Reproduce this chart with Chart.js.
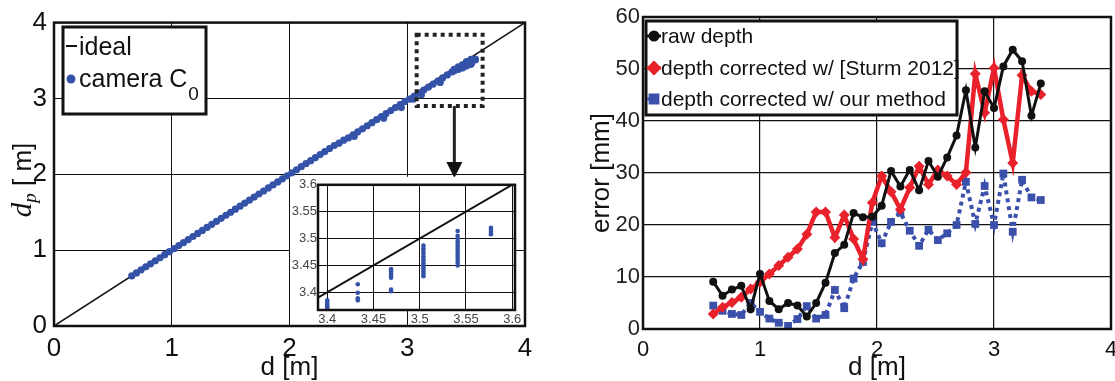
<!DOCTYPE html>
<html>
<head>
<meta charset="utf-8">
<script src="https://cdn.jsdelivr.net/npm/chart.js@4.4.1/dist/chart.umd.min.js"></script>
<style>
html, body { margin: 0; padding: 0; background: #fff; overflow: hidden; width: 1115px; height: 381px; }
canvas { position: absolute; }
#left  { left: 0;     top: 0; }
#inset { left: 280px; top: 176px; }
#right { left: 560px; top: 0; }
</style>
</head>
<body>
<canvas id="left" width="560" height="381"></canvas>
<canvas id="inset" width="245" height="154"></canvas>
<canvas id="right" width="575" height="381"></canvas>
<script>
// ---- left panel: measured depth d vs d_p, camera C0 ----
const bandD  = [0.66,0.70,0.74,0.78,0.82,0.86,0.90,0.94,0.98,1.02,1.06,1.10,1.14,1.18,1.22,1.26,1.30,1.34,1.38,1.42,1.46,1.50,1.54,1.58,1.62,1.66,1.70,1.74,1.78,1.82,1.86,1.90,1.94,1.98,2.02,2.06,2.10,2.14,2.18,2.22,2.26,2.30,2.34,2.38,2.42,2.46,2.50,2.54,2.58,2.62,2.66,2.70,2.74,2.78,2.82,2.86,2.90,2.94,2.98,3.02,3.06,3.10,3.14,3.18,3.22,3.26,3.30,3.34,3.38,
                2.55,2.80,2.95,3.05,3.12,3.28];
const bandDp = [0.66,0.70,0.74,0.78,0.82,0.86,0.90,0.94,0.98,1.02,1.06,1.10,1.14,1.18,1.22,1.26,1.30,1.34,1.38,1.42,1.46,1.50,1.54,1.58,1.62,1.66,1.70,1.74,1.78,1.82,1.86,1.90,1.94,1.98,2.02,2.06,2.10,2.14,2.18,2.22,2.26,2.30,2.34,2.38,2.41,2.45,2.48,2.52,2.56,2.60,2.64,2.68,2.72,2.76,2.80,2.84,2.88,2.92,2.96,2.99,3.03,3.07,3.11,3.15,3.19,3.23,3.27,3.31,3.35,
                2.50,2.74,2.88,2.99,3.05,3.21];
// zoomed region (drawn in both the main plot and the inset)
const zoomD  = [3.400,3.400,3.400,3.400,3.400,3.400,
                3.433,3.433,3.433,3.433,
                3.469,3.469,3.469,3.469,3.469,3.469,3.469,
                3.504,3.504,3.504,3.504,3.504,3.504,3.504,3.504,3.504,3.504,3.504,3.504,3.504,3.504,
                3.541,3.541,3.541,3.541,3.541,3.541,3.541,3.541,3.541,3.541,3.541,3.541,3.541,
                3.577,3.577,3.577,3.577];
const zoomDp = [3.385,3.381,3.377,3.374,3.371,3.368,
                3.415,3.399,3.389,3.385,
                3.443,3.439,3.435,3.431,3.427,3.405,3.402,
                3.487,3.482,3.477,3.472,3.467,3.462,3.458,3.454,3.450,3.446,3.442,3.438,3.434,3.430,
                3.514,3.505,3.500,3.495,3.490,3.485,3.480,3.475,3.470,3.465,3.460,3.455,3.450,
                3.520,3.516,3.512,3.508];
const idealD = [0, 4];
const mainTicks = [0, 1, 2, 3, 4];
const insetXTicks = [3.4, 3.45, 3.5, 3.55, 3.6];
const insetYTicks = [3.4, 3.45, 3.5, 3.55, 3.6];
const zoomBoxD = [3.08, 3.64];
const zoomBoxDp = [2.90, 3.84];

// ---- right panel: error vs distance ----
const distM = [0.60,0.68,0.76,0.84,0.92,1.00,1.08,1.16,1.24,1.32,1.40,1.48,1.56,1.64,1.72,1.80,1.88,1.96,2.04,2.12,2.20,2.28,2.36,2.44,2.52,2.60,2.68,2.76,2.84,2.92,3.00,3.08,3.16,3.24,3.32,3.40];
const errRaw   = [9.1,6.4,7.6,8.3,3.8,10.6,5.4,3.8,5.0,4.5,2.4,5.0,8.9,14.6,16.2,22.3,21.5,21.6,23.7,30.4,27.4,30.6,26.7,32.3,29.3,33.0,37.2,45.9,34.9,45.7,42.5,50.5,53.7,51.5,41.0,47.2];
const errSturm = [2.9,4.2,5.1,6.1,7.7,9.0,10.6,12.2,13.8,15.4,18.2,22.5,22.5,17.6,21.9,17.3,13.4,24.3,29.4,26.4,23.0,27.2,31.3,27.8,30.6,29.4,27.8,30.1,49.1,41.6,50.2,40.3,31.9,48.8,45.7,45.1];
const errOurs  = [4.5,3.5,2.9,2.7,5.0,3.3,2.0,1.2,0.6,1.9,4.4,2.0,2.7,7.5,4.0,9.7,12.9,20.6,16.5,20.6,22.4,18.9,16.0,19.1,17.1,18.4,20.0,28.3,20.2,27.5,20.0,29.9,18.7,28.7,25.3,24.8];
const errTicks = [0, 10, 20, 30, 40, 50, 60];
const seriesNames = ['raw depth', 'depth corrected w/ [Sturm 2012]', 'depth corrected w/ our method'];

const SANS = "'Liberation Sans', Arial, Helvetica, sans-serif";
const SERIF = "'Liberation Serif', 'DejaVu Serif', serif";
const BLUE = '#3453a8';
const pts = (xs, ys) => xs.map((x, i) => ({ x: x, y: ys[i] }));
const setTicks = arr => s => { s.ticks = arr.map(v => ({ value: v })); };

Chart.defaults.animation = false;
Chart.defaults.font.family = SANS;
Chart.defaults.plugins.legend.display = false;
Chart.defaults.plugins.tooltip.enabled = false;

// full black frame around the plot area
const boxPlugin = {
  id: 'box',
  afterDatasetsDraw(chart, args, opts) {
    const a = chart.chartArea, ctx = chart.ctx;
    ctx.save();
    ctx.lineWidth = opts.width || 2.5;
    ctx.strokeStyle = '#111';
    ctx.strokeRect(a.left, a.top, a.right - a.left, a.bottom - a.top);
    ctx.restore();
  }
};

// ---------- left main chart ----------
const leftExtras = {
  id: 'leftExtras',
  afterDraw(chart) {
    const ctx = chart.ctx, xs = chart.scales.x, ys = chart.scales.y;
    ctx.save();
    // dotted rectangle around zoomed region
    const x0 = xs.getPixelForValue(zoomBoxD[0]), x1 = xs.getPixelForValue(zoomBoxD[1]);
    const y0 = ys.getPixelForValue(zoomBoxDp[1]), y1 = ys.getPixelForValue(zoomBoxDp[0]);
    ctx.strokeStyle = '#222';
    ctx.lineWidth = 4;
    ctx.setLineDash([4, 4]);
    ctx.strokeRect(x0, y0, x1 - x0, y1 - y0);
    ctx.setLineDash([]);
    // arrow down to the inset
    const ax = xs.getPixelForValue(3.40);
    const tip = ys.getPixelForValue(1.95);
    ctx.fillStyle = '#111';
    ctx.lineWidth = 3;
    ctx.beginPath(); ctx.moveTo(ax, y1); ctx.lineTo(ax, tip - 12); ctx.stroke();
    ctx.beginPath(); ctx.moveTo(ax - 8, tip - 16); ctx.lineTo(ax + 8, tip - 16); ctx.lineTo(ax, tip); ctx.closePath(); ctx.fill();

    // legend
    ctx.fillStyle = '#fff';
    ctx.fillRect(63, 27, 143, 87);
    ctx.lineWidth = 3;
    ctx.strokeStyle = '#111';
    ctx.strokeRect(63, 27, 143, 87);
    ctx.lineWidth = 2;
    ctx.beginPath(); ctx.moveTo(66, 46); ctx.lineTo(77, 46); ctx.stroke();
    ctx.fillStyle = BLUE;
    ctx.beginPath(); ctx.arc(71, 79, 4.5, 0, Math.PI * 2); ctx.fill();
    ctx.fillStyle = '#111';
    ctx.textBaseline = 'alphabetic';
    ctx.font = '25px ' + SANS;
    ctx.fillText('ideal', 79, 55);
    ctx.fillText('camera C', 79, 87);
    const w = ctx.measureText('camera C').width;
    ctx.font = '19px ' + SANS;
    ctx.fillText('0', 79 + w + 1, 100);

    // y axis title d_p [ m]
    ctx.translate(21, 180);
    ctx.rotate(-Math.PI / 2);
    ctx.font = 'italic 29px ' + SERIF;
    const wd = ctx.measureText('d').width;
    ctx.font = 'italic 19px ' + SERIF;
    const wp = ctx.measureText('p').width;
    ctx.font = '26px ' + SANS;
    const wr = ctx.measureText(' [ m]').width;
    let x = -(wd + wp + wr) / 2;
    ctx.font = 'italic 29px ' + SERIF; ctx.fillText('d', x, 10); x += wd;
    ctx.font = 'italic 19px ' + SERIF; ctx.fillText('p', x, 15); x += wp;
    ctx.font = '26px ' + SANS; ctx.fillText(' [ m]', x, 10);
    ctx.restore();
  }
};

new Chart(document.getElementById('left'), {
  type: 'scatter',
  data: {
    datasets: [
      { label: 'camera C0', data: pts(bandD.concat(zoomD), bandDp.concat(zoomDp)),
        pointRadius: 3.6, pointBorderWidth: 0, backgroundColor: BLUE, borderColor: BLUE },
      { label: 'ideal', data: pts(idealD, idealD), showLine: true, pointRadius: 0,
        borderColor: '#111', borderWidth: 1.5 }
    ]
  },
  options: {
    responsive: false,
    layout: { padding: { left: 0, top: 20, right: 35, bottom: 0 } },
    scales: {
      x: { type: 'linear', min: 0, max: 4, afterBuildTicks: setTicks(mainTicks),
        ticks: { padding: 7, color: '#111', font: { size: 26 } },
        grid: { color: '#111', lineWidth: 1, drawTicks: false }, border: { display: false },
        title: { display: true, text: 'd [m]', color: '#111', padding: 0, font: { size: 26, lineHeight: 1 } },
        afterFit: s => { s.height = 55; } },
      y: { type: 'linear', min: 0, max: 4, afterBuildTicks: setTicks(mainTicks),
        ticks: { padding: 7, color: '#111', font: { size: 26 } },
        grid: { color: '#111', lineWidth: 1, drawTicks: false }, border: { display: false },
        afterFit: s => { s.width = 54; } }
    },
    plugins: { box: { width: 2.5 } }
  },
  plugins: [boxPlugin, leftExtras]
});

// ---------- inset ----------
const insetBg = {
  id: 'insetBg',
  beforeDraw(chart) {
    const a = chart.chartArea, ctx = chart.ctx;
    ctx.save();
    ctx.fillStyle = '#fff';
    ctx.fillRect(a.left - 28, a.top - 8, a.right - a.left + 28, a.bottom - a.top + 8);
    ctx.restore();
  }
};

new Chart(document.getElementById('inset'), {
  type: 'scatter',
  data: {
    datasets: [
      { data: pts(zoomD, zoomDp), pointRadius: 2.3, pointBorderWidth: 0, backgroundColor: BLUE },
      { data: pts(idealD, idealD), showLine: true, pointRadius: 0, borderColor: '#111', borderWidth: 2 }
    ]
  },
  options: {
    responsive: false,
    layout: { padding: { left: 0, top: 8, right: 10, bottom: 0 } },
    scales: {
      x: { type: 'linear', min: 3.39, max: 3.603, afterBuildTicks: setTicks(insetXTicks),
        ticks: { padding: 2, color: '#444', font: { size: 13 }, callback: v => String(+v.toFixed(2)) },
        grid: { color: '#111', lineWidth: 1, drawTicks: false }, border: { display: false },
        afterFit: s => { s.height = 20; } },
      y: { type: 'linear', min: 3.367, max: 3.6, afterBuildTicks: setTicks(insetYTicks),
        ticks: { padding: 1, color: '#444', font: { size: 13 }, callback: v => String(+v.toFixed(2)) },
        grid: { color: '#111', lineWidth: 1, drawTicks: false }, border: { display: false },
        afterFit: s => { s.width = 38; } }
    },
    plugins: { box: { width: 2.5 } }
  },
  plugins: [insetBg, boxPlugin]
});

// ---------- right chart ----------
const rightLegend = {
  id: 'rightLegend',
  afterDraw(chart) {
    const ctx = chart.ctx, ds = chart.data.datasets;
    ctx.save();
    ctx.fillStyle = '#fff';
    ctx.fillRect(86, 21, 311, 94);
    ctx.lineWidth = 3;
    ctx.strokeStyle = '#111';
    ctx.strokeRect(86, 21, 311, 94);
    const rows = [36, 68, 99];
    ctx.font = '21px ' + SANS;
    ctx.textBaseline = 'middle';
    ds.forEach((d, i) => {
      const y = rows[i];
      ctx.strokeStyle = d.borderColor;
      ctx.lineWidth = Math.min(d.borderWidth, 3);
      ctx.setLineDash(d.borderDash || []);
      ctx.beginPath(); ctx.moveTo(87, y); ctx.lineTo(101, y); ctx.stroke();
      ctx.setLineDash([]);
      ctx.fillStyle = d.backgroundColor;
      Chart.helpers.drawPoint(ctx, { pointStyle: d.pointStyle, radius: d.pointRadius, borderWidth: 1 }, 94, y);
      ctx.fillStyle = '#111';
      ctx.fillText(d.label, 101, y + 1);
    });
    ctx.restore();
  }
};

new Chart(document.getElementById('right'), {
  type: 'line',
  data: {
    datasets: [
      { label: seriesNames[0], data: pts(distM, errRaw), borderColor: '#111', backgroundColor: '#111',
        borderWidth: 3, pointStyle: 'circle', pointRadius: 4, pointBorderWidth: 0, order: 0 },
      { label: seriesNames[1], data: pts(distM, errSturm), borderColor: '#e8212b', backgroundColor: '#e8212b',
        borderWidth: 4.5, pointStyle: 'rectRot', pointRadius: 5.5, pointBorderWidth: 0, order: 1 },
      { label: seriesNames[2], data: pts(distM, errOurs), borderColor: '#3a50aa', backgroundColor: '#3a50aa',
        borderWidth: 4, borderDash: [4, 4], pointStyle: 'rect', pointRadius: 5.5, pointBorderWidth: 0, order: 2 }
    ]
  },
  options: {
    responsive: false,
    layout: { padding: { left: 0, top: 17, right: 24, bottom: 0 } },
    scales: {
      x: { type: 'linear', min: 0, max: 4, afterBuildTicks: setTicks(mainTicks),
        ticks: { padding: 8, color: '#111', font: { size: 22 } },
        grid: { color: '#111', lineWidth: 1.2, drawTicks: false }, border: { display: false },
        title: { display: true, text: 'd [m]', color: '#111', padding: 0, font: { size: 26, lineHeight: 1 } },
        afterFit: s => { s.height = 52; } },
      y: { type: 'linear', min: 0, max: 60, afterBuildTicks: setTicks(errTicks),
        ticks: { padding: 3, color: '#222', font: { size: 22 } },
        grid: { color: '#111', lineWidth: 1.2, drawTicks: false }, border: { display: false },
        title: { display: true, text: 'error [mm]', color: '#111', padding: { top: 29, bottom: 0 }, font: { size: 26, lineHeight: 1 } },
        afterFit: s => { s.width = 83; } }
    },
    plugins: { box: { width: 2.5 } }
  },
  plugins: [boxPlugin, rightLegend]
});
</script>
</body>
</html>
